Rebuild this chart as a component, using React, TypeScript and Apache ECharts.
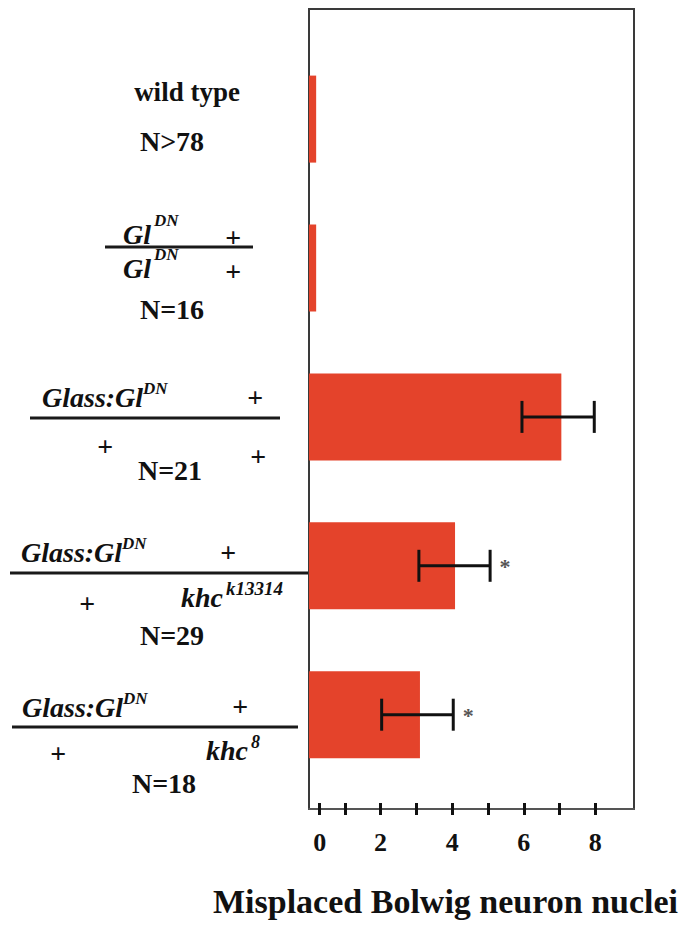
import React, { useEffect, useRef } from 'react';
import * as echarts from 'echarts';

// ---- data ----
const genotypes = [
  'wild type',
  'Gl^DN / Gl^DN',
  'Glass:Gl^DN / +',
  'Glass:Gl^DN ; khc^k13314',
  'Glass:Gl^DN ; khc^8',
];
const sampleSizes = ['N>78', 'N=16', 'N=21', 'N=29', 'N=18'];
const meanMisplaced = [0.2, 0.2, 7.05, 4.08, 3.1];
const errLow = [null, null, 5.95, 3.07, 2.03];
const errHigh = [null, null, 7.97, 5.06, 4.03];
const significance = ['', '', '', '*', '*'];
const tickValues = [0.3, 1, 2, 3, 4, 5, 6, 7, 8];
const tickLabelValues = [0.3, 2, 4, 6, 8];
const tickLabelTexts = ['0', '2', '4', '6', '8'];
const axisMin = 0;
const axisMax = 9.08;
const axisTitle = 'Misplaced Bolwig neuron nuclei';

const SERIF = "'Liberation Serif', 'Times New Roman', Times, serif";
const INK = '#111111';
const BAR = '#E4432B';

function txt(text: string, x: number, y: number, size: number, italic: boolean, align: string = 'left', color: string = INK) {
  return {
    type: 'text',
    x,
    y,
    silent: true,
    style: {
      text,
      fill: color,
      fontSize: size,
      fontFamily: SERIF,
      fontWeight: 'bold',
      fontStyle: italic ? 'italic' : 'normal',
      align,
      verticalAlign: 'middle',
    },
  };
}

function rule(x1: number, x2: number, y: number) {
  return {
    type: 'line',
    silent: true,
    shape: { x1, y1: y, x2, y2: y },
    style: { stroke: '#1a1a1a', lineWidth: 3 },
  };
}

function buildLabels() {
  const F = 28;
  const S = 17;
  return [
    // wild type
    txt('wild type', 187, 92, 27, false, 'center'),
    txt(sampleSizes[0], 172, 141, F, false, 'center'),
    // Gl^DN / Gl^DN
    txt('Gl', 123, 234, F, true),
    txt('DN', 154, 220, S, true),
    txt('+', 233, 237, F, true, 'center'),
    rule(105, 253, 247),
    txt('Gl', 123, 268, F, true),
    txt('DN', 154, 254, S, true),
    txt('+', 233, 271, F, true, 'center'),
    txt(sampleSizes[1], 172, 309, F, false, 'center'),
    // Glass:Gl^DN / +
    txt('Glass:Gl', 42, 397, F, true),
    txt('DN', 143, 388, S, true),
    txt('+', 255, 397, F, true, 'center'),
    rule(30, 280, 418),
    txt('+', 105, 446, F, true, 'center'),
    txt('+', 258, 456, F, true, 'center'),
    txt(sampleSizes[2], 170, 470, F, false, 'center'),
    // Glass:Gl^DN ; khc^k13314
    txt('Glass:Gl', 21, 552, F, true),
    txt('DN', 122, 543, S, true),
    txt('+', 228, 552, F, true, 'center'),
    rule(10, 308, 573),
    txt('+', 87, 603, F, true, 'center'),
    txt('khc', 181, 597, F, true),
    txt('k13314', 226, 588, 19, true),
    txt(sampleSizes[3], 172, 635, F, false, 'center'),
    // Glass:Gl^DN ; khc^8
    txt('Glass:Gl', 22, 707, F, true),
    txt('DN', 123, 698, S, true),
    txt('+', 240, 706, F, true, 'center'),
    rule(12, 298, 727),
    txt('+', 58, 753, F, true, 'center'),
    txt('khc', 206, 750, F, true),
    txt('8', 251, 742, 18, true),
    txt(sampleSizes[4], 164, 783, F, false, 'center'),
    // axis title
    txt(axisTitle, 213, 901, 34, false, 'left'),
  ];
}

export default function App() {
  const ref = useRef<HTMLDivElement>(null);

  useEffect(() => {
    if (!ref.current) return;
    const chart = echarts.init(ref.current, null, { renderer: 'svg' });

    const errData = genotypes
      .map((_, i) => [i, errLow[i], errHigh[i]])
      .filter((d) => d[1] != null && d[2] != null);

    const labelFor = (v: number) => {
      const k = tickLabelValues.findIndex((t) => Math.abs(t - v) < 1e-6);
      return k >= 0 ? tickLabelTexts[k] : '';
    };

    chart.setOption({
      animation: false,
      backgroundColor: '#ffffff',
      grid: [
        {
          left: 309,
          top: 9,
          width: 325,
          height: 800,
          show: true,
          borderColor: '#3a3a3a',
          borderWidth: 2,
          backgroundColor: 'transparent',
          outerBoundsMode: 'none',
        },
        {
          left: 309,
          top: 44.65,
          width: 325,
          height: 744.5,
          show: false,
          outerBoundsMode: 'none',
        },
      ],
      xAxis: [
        {
          type: 'value',
          gridIndex: 0,
          min: axisMin,
          max: axisMax,
          position: 'bottom',
          axisLine: { show: true, onZero: false, lineStyle: { color: '#555', width: 2 } },
          axisTick: {
            show: true,
            inside: false,
            length: 6,
            customValues: tickValues,
            lineStyle: { color: INK, width: 3 },
          },
          axisLabel: {
            show: true,
            customValues: tickLabelValues,
            formatter: (v: number) => labelFor(v),
            fontFamily: SERIF,
            fontSize: 26,
            fontWeight: 'bold',
            color: INK,
            margin: 20,
          },
          splitLine: { show: false },
        },
        {
          type: 'value',
          gridIndex: 0,
          min: axisMin,
          max: axisMax,
          position: 'bottom',
          offset: 0,
          axisLine: { show: false },
          axisTick: {
            show: true,
            inside: true,
            length: 6,
            customValues: tickValues,
            lineStyle: { color: INK, width: 3 },
          },
          axisLabel: { show: false },
          splitLine: { show: false },
        },
        {
          type: 'value',
          gridIndex: 1,
          min: axisMin,
          max: axisMax,
          show: false,
          splitLine: { show: false },
        },
      ],
      yAxis: [
        {
          type: 'value',
          gridIndex: 0,
          show: false,
          splitLine: { show: false },
        },
        {
          type: 'category',
          gridIndex: 1,
          data: genotypes,
          inverse: true,
          show: false,
        },
      ],
      series: [
        {
          type: 'bar',
          xAxisIndex: 2,
          yAxisIndex: 1,
          data: meanMisplaced,
          barWidth: 87,
          itemStyle: { color: BAR },
          silent: true,
          z: 2,
        },
        {
          type: 'custom',
          xAxisIndex: 2,
          yAxisIndex: 1,
          data: errData,
          encode: { x: [1, 2], y: 0 },
          z: 5,
          silent: true,
          renderItem: (params: any, api: any) => {
            const idx = api.value(0);
            const lo = api.coord([api.value(1), idx]);
            const hi = api.coord([api.value(2), idx]);
            const h = 16;
            const st = { stroke: INK, lineWidth: 3 };
            const children: any[] = [
              { type: 'line', shape: { x1: lo[0], y1: lo[1], x2: hi[0], y2: hi[1] }, style: st },
              { type: 'line', shape: { x1: lo[0], y1: lo[1] - h, x2: lo[0], y2: lo[1] + h }, style: st },
              { type: 'line', shape: { x1: hi[0], y1: hi[1] - h, x2: hi[0], y2: hi[1] + h }, style: st },
            ];
            const mark = significance[idx];
            if (mark) {
              children.push({
                type: 'text',
                x: hi[0] + 15,
                y: hi[1] + 1,
                style: {
                  text: mark,
                  fill: '#555555',
                  fontSize: 22,
                  fontFamily: SERIF,
                  fontWeight: 'bold',
                  align: 'center',
                  verticalAlign: 'middle',
                },
              });
            }
            return { type: 'group', children };
          },
        },
      ],
      graphic: buildLabels(),
    });

    return () => {
      chart.dispose();
    };
  }, []);

  return (
    <div
      ref={ref}
      style={{ position: 'absolute', left: 0, top: 0, width: 687, height: 927, background: '#fff' }}
    />
  );
}
